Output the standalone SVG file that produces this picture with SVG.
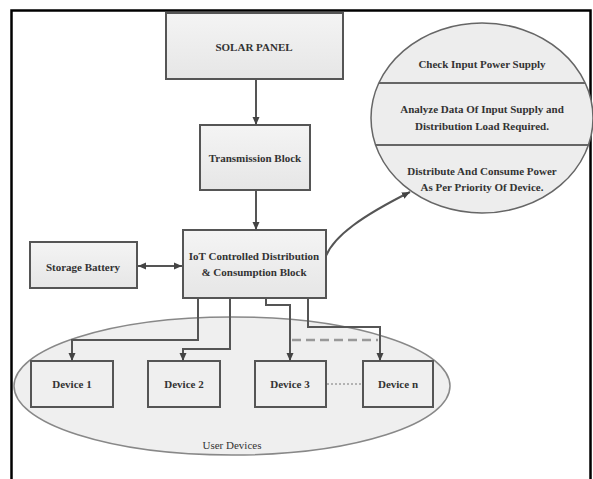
<svg xmlns="http://www.w3.org/2000/svg" width="593" height="479" viewBox="0 0 593 479">
<defs>
<linearGradient id="boxg" x1="0" y1="0" x2="0" y2="1">
<stop offset="0" stop-color="#f4f4f4"/>
<stop offset="1" stop-color="#e6e6e6"/>
</linearGradient>
<marker id="arr" markerUnits="userSpaceOnUse" markerWidth="8" markerHeight="8" viewBox="0 0 8 8" refX="8" refY="4" orient="auto-start-reverse">
<path d="M0,0.5 L8,4 L0,7.5 Z" fill="#444"/>
</marker>
<clipPath id="circClip">
<ellipse cx="482" cy="118" rx="111" ry="95"/>
</clipPath>
</defs>
<style>
.box{fill:url(#boxg);stroke:#555;stroke-width:2}
.dev{fill:#efefef;stroke:#555;stroke-width:2}
.t{font-family:"Liberation Serif","Times New Roman",serif;font-size:11px;font-weight:bold;fill:#333;text-anchor:middle}
.tr{font-family:"Liberation Serif","Times New Roman",serif;font-size:11px;fill:#333;text-anchor:middle}
.ln{fill:none;stroke:#555;stroke-width:2}
</style>
<rect x="0" y="0" width="593" height="479" fill="#ffffff"/>
<rect x="11.5" y="10.5" width="579" height="480" fill="none" stroke="#000" stroke-width="2.5"/>

<g id="user-devices">
<ellipse cx="232" cy="386" rx="218" ry="69" fill="#efefef" stroke="#888" stroke-width="1.5"/>
<text class="tr" x="232" y="449">User Devices</text>
</g>

<g id="solar-panel">
<rect class="box" x="166" y="13" width="177" height="66"/>
<text class="t" x="254" y="51">SOLAR PANEL</text>
</g>

<g id="transmission-block">
<rect class="box" x="200" y="125" width="110" height="65"/>
<text class="t" x="255" y="162">Transmission Block</text>
</g>

<g id="iot-block">
<rect class="box" x="183" y="230" width="143" height="68"/>
<text class="t" x="254" y="260">IoT Controlled Distribution</text>
<text class="t" x="254" y="276">&amp; Consumption Block</text>
</g>

<g id="storage-battery">
<rect class="box" x="30" y="242" width="107" height="46"/>
<text class="t" x="83" y="271">Storage Battery</text>
</g>

<g id="process-circle">
<ellipse cx="482" cy="118" rx="111" ry="95" fill="#ededed" stroke="#666" stroke-width="1.5"/>
<g clip-path="url(#circClip)">
<line x1="360" y1="83" x2="600" y2="83" stroke="#666" stroke-width="2"/>
<line x1="360" y1="145" x2="600" y2="145" stroke="#666" stroke-width="2"/>
</g>
<text class="t" x="482" y="68">Check Input Power Supply</text>
<text class="t" x="482" y="113">Analyze Data Of Input Supply and</text>
<text class="t" x="482" y="130">Distribution Load Required.</text>
<text class="t" x="482" y="175">Distribute And Consume Power</text>
<text class="t" x="482" y="191">As Per Priority Of Device.</text>
</g>

<g id="device-1">
<rect class="dev" x="31" y="361" width="82" height="46"/>
<text class="t" x="72" y="388">Device 1</text>
</g>
<g id="device-2">
<rect class="dev" x="148" y="361" width="72" height="46"/>
<text class="t" x="184" y="388">Device 2</text>
</g>
<g id="device-3">
<rect class="dev" x="255" y="361" width="71" height="46"/>
<text class="t" x="290" y="388">Device 3</text>
</g>
<g id="device-n">
<rect class="dev" x="363" y="361" width="70" height="46"/>
<text class="t" x="398" y="388">Device n</text>
</g>

<g id="connectors">
<line class="ln" x1="256" y1="79" x2="256" y2="125" marker-end="url(#arr)"/>
<line class="ln" x1="256" y1="190" x2="256" y2="230" marker-end="url(#arr)"/>
<line class="ln" x1="138" y1="266" x2="182" y2="266" marker-start="url(#arr)" marker-end="url(#arr)"/>
<path class="ln" d="M326,256 C334,236 362,216 410,192" marker-end="url(#arr)"/>
<polyline class="ln" points="198,298 198,340 72,340 72,361" marker-end="url(#arr)"/>
<polyline class="ln" points="230,298 230,349 183,349 183,361" marker-end="url(#arr)"/>
<polyline class="ln" points="266,298 266,305 290,305 290,361" marker-end="url(#arr)"/>
<polyline class="ln" points="308,298 308,327 380,327 380,361" marker-end="url(#arr)"/>
<line x1="292" y1="340" x2="378" y2="340" stroke="#999" stroke-width="2.5" stroke-dasharray="9,5"/>
<line x1="327" y1="384" x2="362" y2="384" stroke="#777" stroke-width="1" stroke-dasharray="2,2"/>
</g>
</svg>
